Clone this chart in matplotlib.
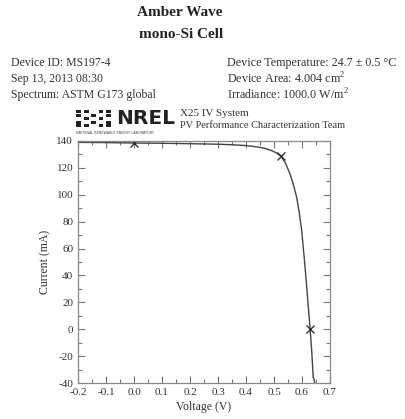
import matplotlib
matplotlib.use("Agg")
import matplotlib.pyplot as plt
from matplotlib.ticker import MultipleLocator, FuncFormatter
from matplotlib.patches import Rectangle

# Data
voltage = [-0.20, -0.10, 0.00, 0.10, 0.20, 0.30, 0.35, 0.40, 0.44, 0.47, 0.49, 0.51,
           0.525, 0.54, 0.557, 0.57, 0.581, 0.59, 0.599, 0.608, 0.615, 0.622, 0.629,
           0.634, 0.638, 0.640, 0.643, 0.645]
current = [139.0, 138.8, 138.5, 138.3, 138.0, 137.6, 137.2, 136.6, 135.6, 134.4, 133.0, 131.0,
           128.5, 124.0, 115.6, 107.0, 98.0, 87.0, 73.0, 53.0, 36.0, 18.0, 0.0,
           -14.0, -28.0, -36.0, -37.0, -40.0]
marker_v = [0.0, 0.525, 0.629]
marker_i = [138.5, 128.5, 0.0]

title_lines = ["Amber Wave", "mono-Si Cell"]
left_info = ["Device ID: MS197-4", "Sep 13, 2013 08:30", "Spectrum: ASTM G173 global"]
right_info = ["Device Temperature: 24.7 \u00b1 0.5 \u00b0C",
              "Device Area: 4.004 cm$^2$",
              "Irradiance: 1000.0 W/m$^2$"]

plt.rcParams['font.family'] = ['Liberation Serif', 'DejaVu Serif']
plt.rcParams['mathtext.fontset'] = 'custom'
plt.rcParams['mathtext.rm'] = 'Liberation Serif'
plt.rcParams['axes.unicode_minus'] = False

W, H = 405, 419
fig = plt.figure(figsize=(W / 100, H / 100), dpi=100)
fig.patch.set_facecolor('white')

def fx(px):
    return px / W

def fy(py):
    return 1 - py / H

txt = '#333333'
fig.text(fx(180), fy(12), title_lines[0], ha='center', va='center', fontsize=11,
         fontweight='bold', color='#222222')
fig.text(fx(181), fy(34), title_lines[1], ha='center', va='center', fontsize=11,
         fontweight='bold', color='#222222')
rows = [63, 79, 95]
for k, s in enumerate(left_info):
    fig.text(fx(11), fy(rows[k]), s, ha='left', va='center', fontsize=8.5, color=txt)
for k, s in enumerate(right_info):
    fig.text(fx(227), fy(rows[k]), s, ha='left', va='center', fontsize=8.7, color=txt)

# NREL logo (approximation)
dots = [(0, 0), (1, 0), (3, 0), (4, 0), (0, 1), (2, 1), (4, 1), (1, 2), (3, 2),
        (0, 3), (2, 3), (4, 3), (0, 4), (1, 4), (3, 4), (4, 4)]
for cx, cy in dots:
    fig.patches.append(Rectangle((fx(76 + cx * 7.5), fy(110 + cy * 3.6) - 3 / H), 5 / W, 3 / H,
                                 transform=fig.transFigure, color='#222222', lw=0))
fig.text(fx(116), fy(118), "NREL", ha='left', va='center', fontsize=14.5, fontweight='bold',
         family='DejaVu Sans', color='#222222')
fig.text(fx(76), fy(133), "NATIONAL RENEWABLE ENERGY LABORATORY", ha='left', va='center',
         fontsize=2.4, family='DejaVu Sans', color='#444444')
fig.text(fx(180), fy(114), "X25 IV System", ha='left', va='center', fontsize=8, color=txt)
fig.text(fx(180), fy(126), "PV Performance Characterization Team", ha='left', va='center',
         fontsize=7.5, color=txt)

ax = fig.add_axes([fx(78), fy(383), fx(330) - fx(78), fy(141) - fy(383)])
ax.plot(voltage, current, color='#444444', lw=1.0)
ax.plot(marker_v, marker_i, linestyle='none', marker='x', color='#333333', ms=6, mew=1.0)

ax.set_xlim(-0.2, 0.7)
ax.set_ylim(-40, 140)
ax.xaxis.set_major_locator(MultipleLocator(0.1))
ax.xaxis.set_minor_locator(MultipleLocator(0.05))
ax.yaxis.set_major_locator(MultipleLocator(20))
ax.yaxis.set_minor_locator(MultipleLocator(10))
ax.xaxis.set_major_formatter(FuncFormatter(lambda v, p: f"{v:.1f}"))
ax.yaxis.set_major_formatter(FuncFormatter(lambda v, p: f"{v:.0f}"))
ax.tick_params(which='both', direction='in', top=True, right=True, colors='#777777',
               labelcolor='#333333', labelsize=8)
ax.tick_params(which='major', length=5, width=0.8)
ax.tick_params(which='minor', length=3, width=0.8)
for sp in ax.spines.values():
    sp.set_color('#888888')
    sp.set_linewidth(0.9)
ax.set_xlabel("Voltage (V)", fontsize=8.5, color=txt, labelpad=3)
ax.set_ylabel("Current (mA)", fontsize=8.5, color=txt, labelpad=4)

fig.savefig("out.png", dpi=100)
